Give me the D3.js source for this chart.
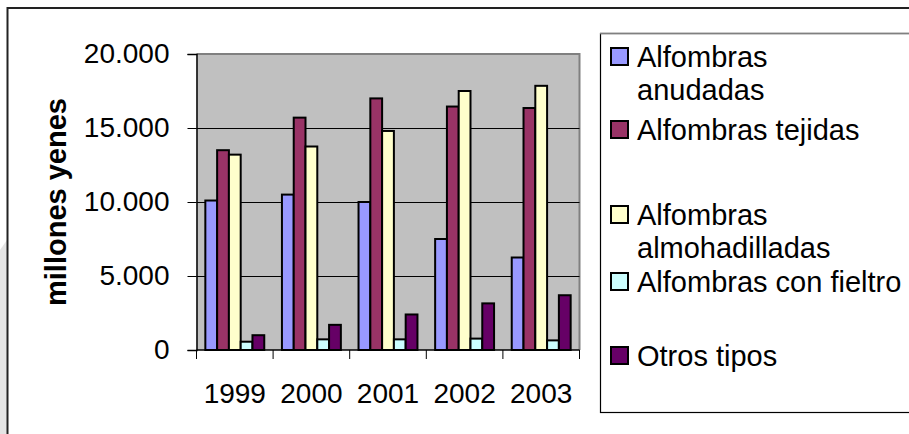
<!DOCTYPE html>
<html>
<head>
<meta charset="utf-8">
<script src="https://cdn.jsdelivr.net/npm/d3@7/dist/d3.min.js"></script>
<style>
html,body{margin:0;padding:0;background:#fff;}
svg{display:block;font-family:"Liberation Sans",Arial,sans-serif;}
</style>
</head>
<body>
<svg id="chart" width="909" height="434"></svg>
<script>
// ---- data ----
const years = ["1999", "2000", "2001", "2002", "2003"];
const seriesNames = ["Alfombras anudadas", "Alfombras tejidas", "Alfombras almohadilladas", "Alfombras con fieltro", "Otros tipos"];
const anudadas = [10100, 10500, 10000, 7500, 6250];
const tejidas = [13500, 15700, 17000, 16450, 16350];
const almohadilladas = [13200, 13750, 14800, 17500, 17850];
const fieltro = [560, 720, 720, 770, 650];
const otros = [1000, 1700, 2400, 3150, 3700];
const yTicks = [0, 5000, 10000, 15000, 20000];
const yTitle = "millones yenes";
const colors = ["#9999FF", "#993366", "#FFFFCC", "#CCFFFF", "#660066"];
const legendLines = [["Alfombras", "anudadas"], ["Alfombras tejidas"], ["Alfombras", "almohadilladas"], ["Alfombras con fieltro"], ["Otros tipos"]];

const seriesValues = [anudadas, tejidas, almohadilladas, fieltro, otros];

// ---- layout ----
const svg = d3.select("#chart");
const plot = {left: 196.5, right: 579.5, top: 54, bottom: 350};

// background watermark-ish strip & outer frame
svg.append("polygon").attr("points", "0,250 7,240 7,434 0,434").attr("fill", "#e4e4e4");
svg.append("rect").attr("x", 7.5).attr("y", 8).attr("width", 960).attr("height", 500)
  .attr("fill", "#fff").attr("stroke", "#222").attr("stroke-width", 2);

const x0 = d3.scaleBand().domain(years).range([plot.left, plot.right]).padding(0);
const barW = x0.bandwidth() / 6.5;
const x1 = d3.scaleBand().domain(d3.range(seriesNames.length))
  .range([0, barW * seriesNames.length]).padding(0);
const groupOffset = (x0.bandwidth() - barW * seriesNames.length) / 2;
const y = d3.scaleLinear().domain([0, 20000]).range([plot.bottom, plot.top]);

// plot area
svg.append("rect").attr("x", plot.left).attr("y", plot.top)
  .attr("width", plot.right - plot.left).attr("height", plot.bottom - plot.top)
  .attr("fill", "#C0C0C0");
svg.append("path")
  .attr("d", `M${plot.left},${plot.top}H${plot.right}V${plot.bottom}`)
  .attr("fill", "none").attr("stroke", "#808080").attr("stroke-width", 2);

// gridlines
svg.append("g").selectAll("line").data(yTicks.filter(t => t > 0 && t < 20000)).join("line")
  .attr("x1", plot.left).attr("x2", plot.right)
  .attr("y1", d => Math.round(y(d)) + 0.5).attr("y2", d => Math.round(y(d)) + 0.5)
  .attr("stroke", "#000").attr("stroke-width", 1);

// bars
const groups = svg.append("g").selectAll("g").data(years).join("g")
  .attr("transform", d => `translate(${x0(d) + groupOffset},0)`);
groups.selectAll("rect").data((d, i) => seriesValues.map((s, k) => ({k, v: s[i]}))).join("rect")
  .attr("x", d => x1(d.k))
  .attr("y", d => y(d.v))
  .attr("width", x1.bandwidth())
  .attr("height", d => y(0) - y(d.v))
  .attr("fill", d => colors[d.k])
  .attr("stroke", "#000").attr("stroke-width", 2);

// y axis
const locale = d3.formatLocale({decimal: ",", thousands: ".", grouping: [3], currency: ["", ""]});
const fmt = locale.format(",");
const yAxis = d3.axisLeft(y).tickValues(yTicks).tickFormat(fmt).tickSize(9).tickPadding(18);
const gy = svg.append("g").attr("transform", `translate(${plot.left},0)`).call(yAxis);
gy.select(".domain").attr("stroke", "#000").attr("stroke-width", 1.5);
gy.selectAll(".tick line").attr("stroke", "#000");
gy.selectAll(".tick text").attr("font-size", 28).attr("fill", "#000")
  .attr("font-family", "'Liberation Sans', Arial, sans-serif");

// x axis (ticks at category boundaries)
const gx = svg.append("g").attr("transform", `translate(0,${plot.bottom})`);
gx.append("line").attr("x1", plot.left).attr("x2", plot.right).attr("y1", 0).attr("y2", 0)
  .attr("stroke", "#000").attr("stroke-width", 1.5);
const bounds = years.map(d => x0(d)).concat([x0(years[years.length - 1]) + x0.bandwidth()]);
gx.selectAll("line.tk").data(bounds).join("line").attr("class", "tk")
  .attr("x1", d => d).attr("x2", d => d).attr("y1", 0).attr("y2", 9)
  .attr("stroke", "#000").attr("stroke-width", 1);
gx.selectAll("text").data(years).join("text")
  .attr("x", d => x0(d) + x0.bandwidth() / 2).attr("y", 53)
  .attr("text-anchor", "middle").attr("font-size", 28).attr("fill", "#000")
  .text(d => d);

// y title
svg.append("text")
  .attr("transform", `translate(66,${(plot.top + plot.bottom) / 2}) rotate(-90)`)
  .attr("text-anchor", "middle").attr("font-size", 29).attr("font-weight", "bold")
  .attr("fill", "#000").text(yTitle);

// legend
const lg = svg.append("g");
lg.append("rect").attr("x", 600.5).attr("y", 33.5).attr("width", 400).attr("height", 379)
  .attr("fill", "#fff").attr("stroke", "#000").attr("stroke-width", 1.2);
lg.append("line").attr("x1", 600).attr("x2", 909).attr("y1", 33.5).attr("y2", 33.5)
  .attr("stroke", "#808080").attr("stroke-width", 1.5);
const legendBaselines = [67, 140, 225, 292, 366];
const lineGap = 33;
const items = lg.selectAll("g.item").data(seriesNames).join("g").attr("class", "item")
  .attr("transform", (d, i) => `translate(0,${legendBaselines[i]})`);
items.append("rect").attr("x", 611).attr("y", -19).attr("width", 17).attr("height", 17)
  .attr("fill", (d, i) => colors[i]).attr("stroke", "#000").attr("stroke-width", 2);
items.each(function(d, i) {
  const t = d3.select(this).append("text").attr("font-size", 29).attr("fill", "#000");
  legendLines[i].forEach((ln, j) => {
    t.append("tspan").attr("x", 637).attr("y", j * lineGap).text(ln);
  });
});
</script>
</body>
</html>
